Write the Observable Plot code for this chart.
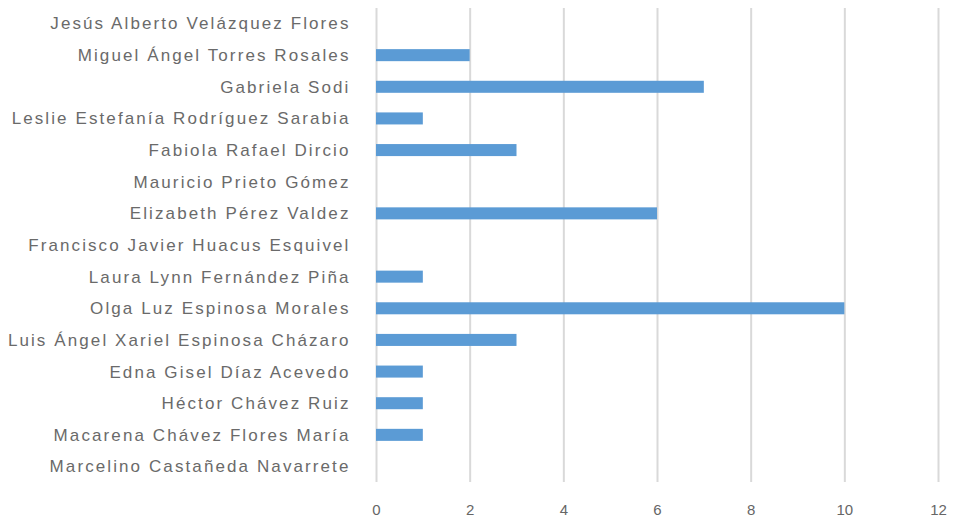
<!DOCTYPE html>
<html>
<head>
<meta charset="utf-8">
<script src="https://cdn.jsdelivr.net/npm/d3@7"></script>
<script src="https://cdn.jsdelivr.net/npm/@observablehq/plot@0.6"></script>
<style>
html, body { margin: 0; padding: 0; background: #fff; }
#chart svg { font-family: "Liberation Sans", Arial, sans-serif; }
</style>
</head>
<body>
<div id="chart"></div>
<script>
const names = [
  "Jesús Alberto Velázquez Flores",
  "Miguel Ángel Torres Rosales",
  "Gabriela Sodi",
  "Leslie Estefanía Rodríguez Sarabia",
  "Fabiola Rafael Dircio",
  "Mauricio Prieto Gómez",
  "Elizabeth Pérez Valdez",
  "Francisco Javier Huacus Esquivel",
  "Laura Lynn Fernández Piña",
  "Olga Luz Espinosa Morales",
  "Luis Ángel Xariel Espinosa Cházaro",
  "Edna Gisel Díaz Acevedo",
  "Héctor Chávez Ruiz",
  "Macarena Chávez Flores María",
  "Marcelino Castañeda Navarrete"
];
const values = [0, 2, 7, 1, 3, 0, 6, 0, 1, 10, 3, 1, 1, 1, 0];
const xTicks = [0, 2, 4, 6, 8, 10, 12];

const data = names.map((n, i) => ({name: n, value: values[i]}));

const chart = Plot.plot({
  width: 953,
  height: 520,
  marginLeft: 376,
  marginRight: 15,
  marginTop: 8,
  marginBottom: 38,
  style: {fontSize: "15px", color: "#666", background: "#fff"},
  x: {domain: [0, 12], ticks: xTicks, label: null},
  y: {domain: names, label: null, paddingInner: 0.62, paddingOuter: 0.3, round: false},
  marks: [
    Plot.gridX(xTicks, {stroke: "#d9d9d9", strokeOpacity: 1, strokeWidth: 2}),
    Plot.barX(data, {x: "value", y: "name", fill: "#5B9BD5"}),
    Plot.axisX({ticks: xTicks, tickSize: 0, tickPadding: 22, fill: "#666", fontSize: 15}),
    Plot.axisY({tickSize: 0, tickPadding: 26, fill: "#6a6a6a", fontSize: 17, textOverflow: null, lineWidth: Infinity})
  ]
});
document.getElementById("chart").appendChild(chart);
chart.querySelectorAll("g[aria-label='y-axis tick label'] text").forEach(t => t.style.letterSpacing = "2.1px");
</script>
</body>
</html>
